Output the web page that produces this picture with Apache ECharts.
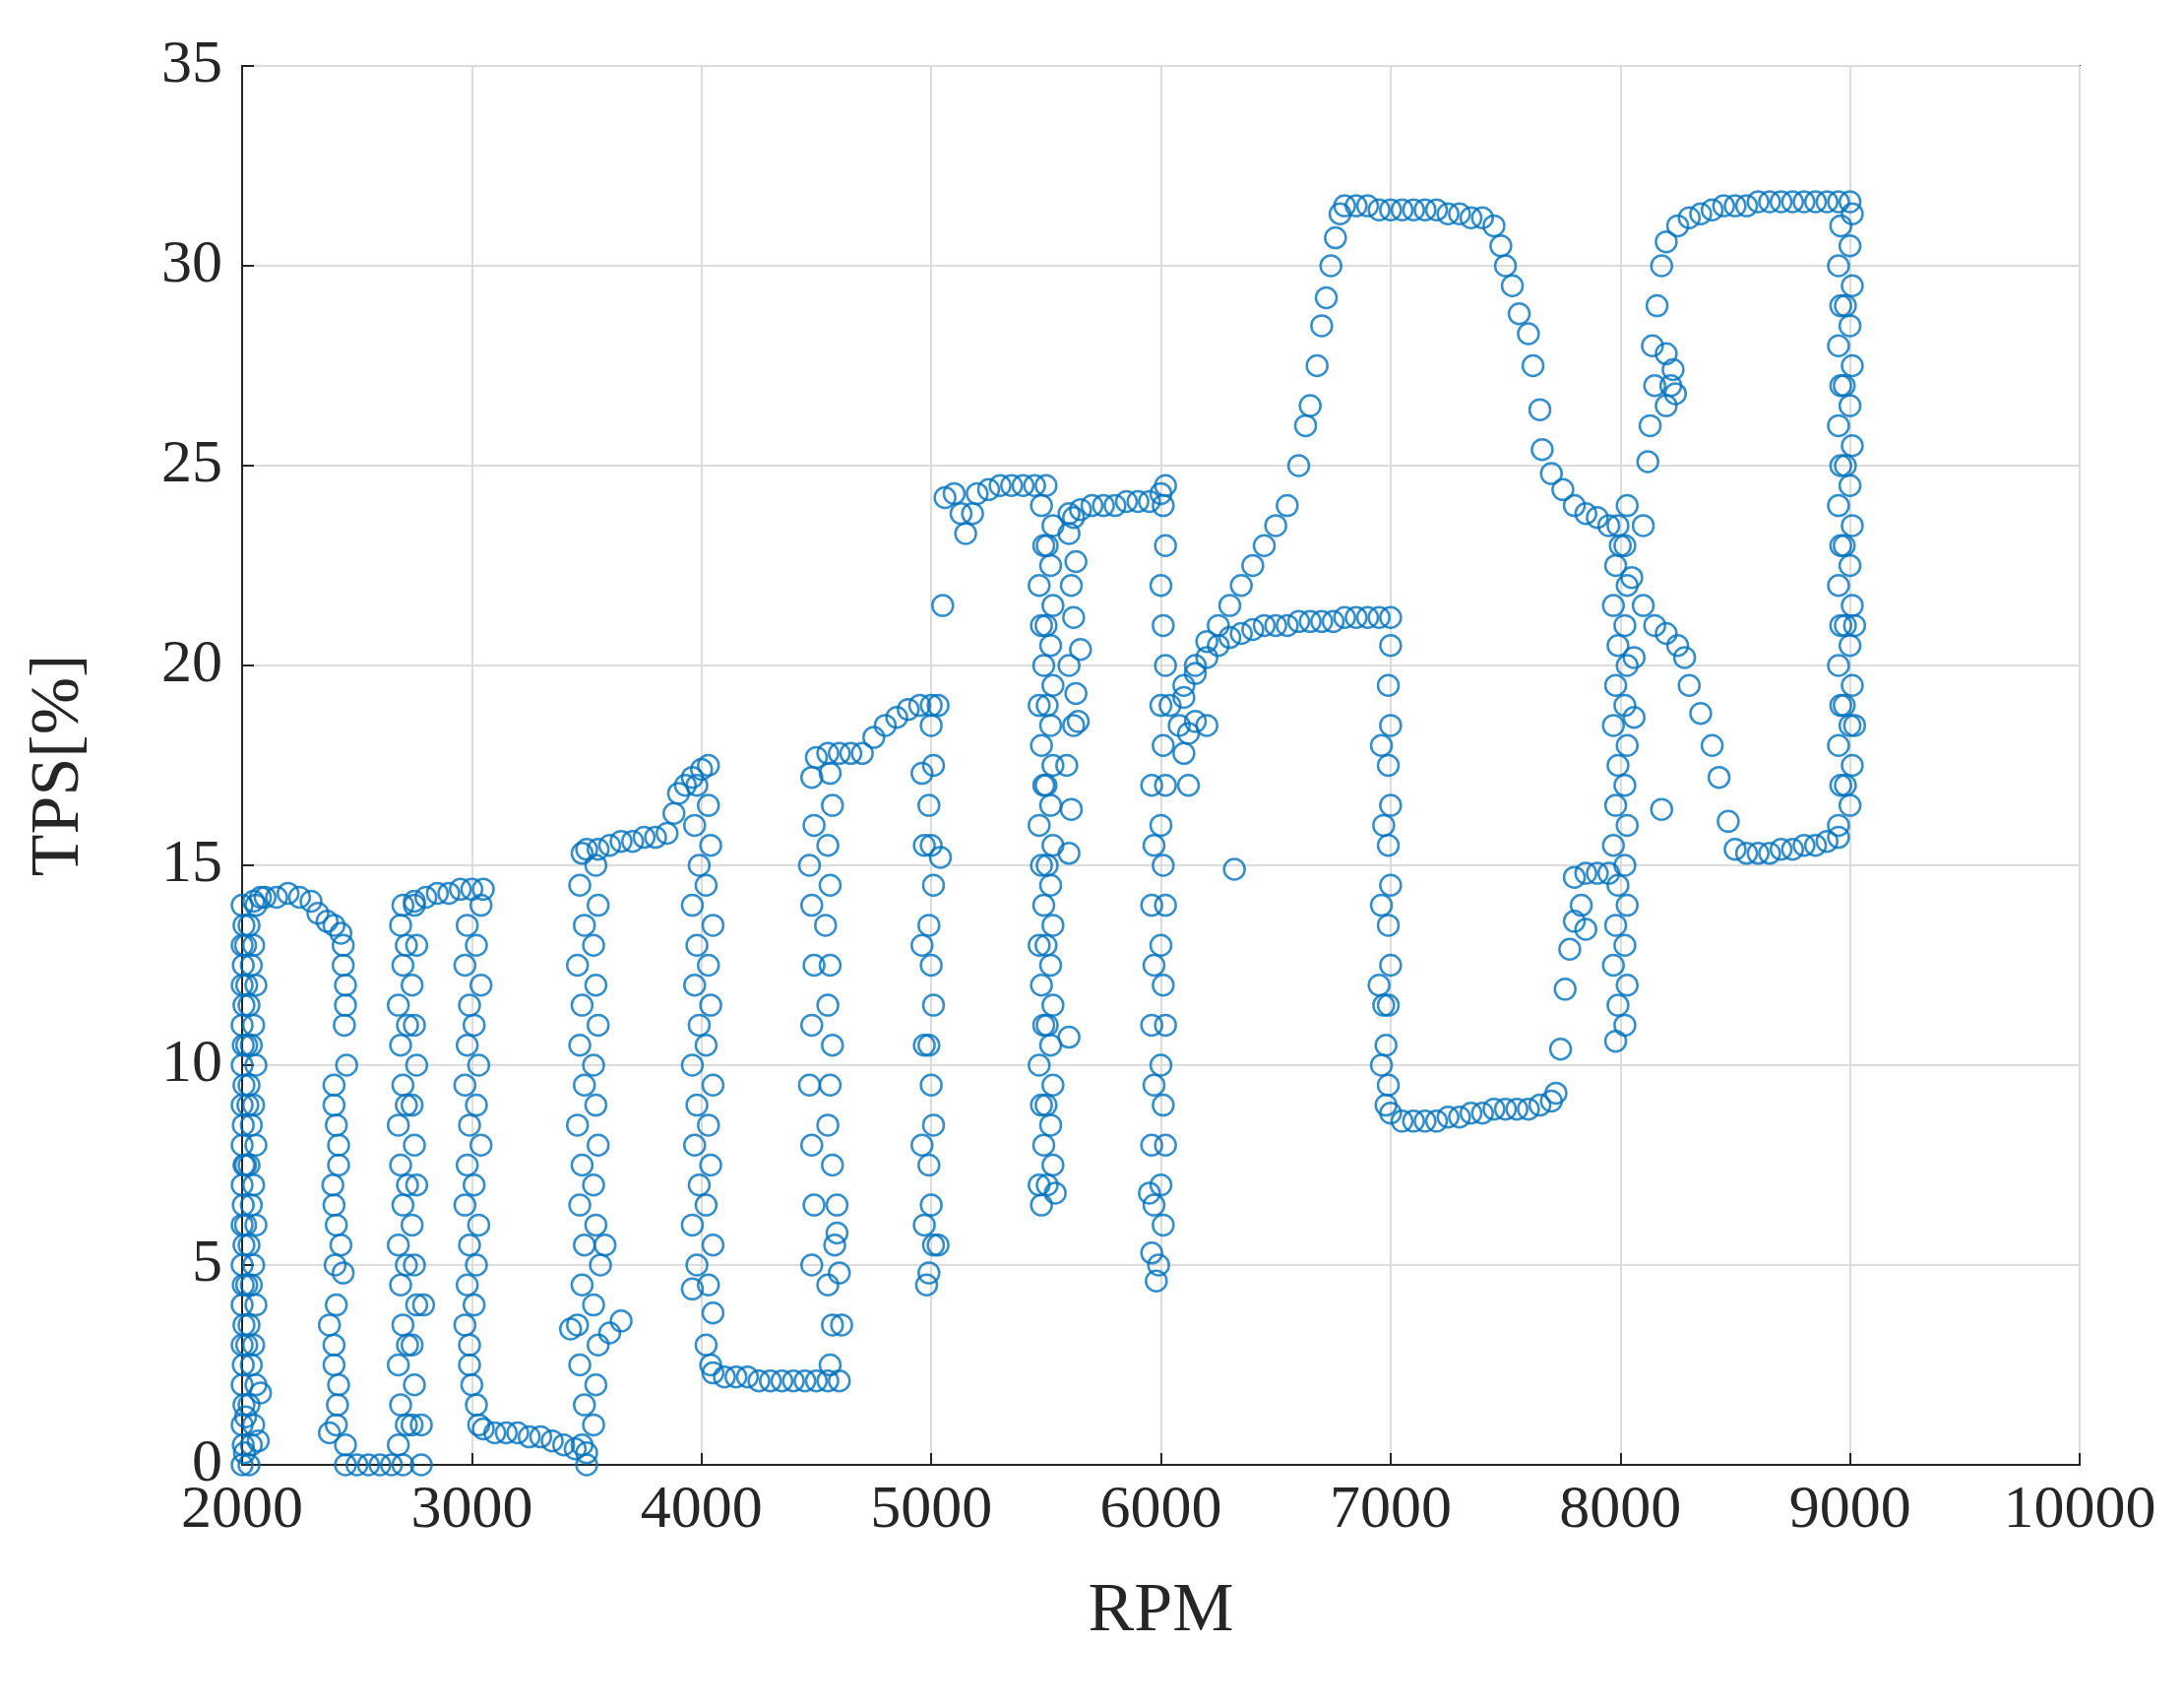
<!DOCTYPE html>
<html><head><meta charset="utf-8">
<script src="https://cdn.jsdelivr.net/npm/echarts@6/dist/echarts.min.js"></script>
<style>html,body{margin:0;background:#fff}#c{width:2219px;height:1735px}</style>
</head><body><div id="c"></div>
<script>
// tick values
const xTicks = [2000, 3000, 4000, 5000, 6000, 7000, 8000, 9000, 10000];
const yTicks = [0, 5, 10, 15, 20, 25, 30, 35];

// the trace, read piece by piece as [rpm, tps]
const seg2000 = [[2000,0],[2005,0.5],[2000,1],[2008,1.5],[2000,2],[2005,2.5],[2000,3],[2008,3.5],[2000,4],[2005,4.5],[2000,5],[2008,5.5],[2000,6],[2005,6.5],[2000,7],[2008,7.5],[2000,8],[2005,8.5],[2000,9],[2008,9.5],[2000,10],[2005,10.5],[2000,11],[2008,11.5],[2000,12],[2005,12.5],[2000,13],[2008,13.5],[2000,14],
  [2030,0],[2040,0.5],[2050,1],[2030,1.5],[2060,2],[2040,2.5],[2050,3],[2030,3.5],[2060,4],[2040,4.5],[2050,5],[2030,5.5],[2060,6],[2040,6.5],[2050,7],[2030,7.5],[2060,8],[2040,8.5],[2050,9],[2030,9.5],[2060,10],[2040,10.5],[2050,11],[2030,11.5],[2060,12],[2040,12.5],[2050,13],[2030,13.5],[2060,14],
  [2020,3],[2015,6],[2025,9],[2020,12],[2010,0.3],[2080,1.8],[2070,0.6],[2015,1.2],[2020,4.5],[2015,7.5],[2020,10.5],[2015,13]];
const segTop1 = [[2050,14.1],[2080,14.2],[2100,14.2],[2150,14.2],[2200,14.3],[2250,14.2],[2300,14.1],[2330,13.8],[2370,13.6],[2400,13.5],[2430,13.3]];
const segDown1 = [[2440,13],[2450,12],[2445,11],[2455,10],[2400,9.5],[2410,8.5],[2420,7.5],[2400,6.5],[2430,5.5],[2440,4.8],[2410,4],[2400,3],[2420,2],[2410,1],[2450,0.5],[2380,0.8],[2400,9],[2395,7],[2405,5],[2380,3.5],[2440,12.5],[2450,11.5],[2410,6],[2420,8],[2400,2.5],[2415,1.5]];
const segBot1 = [[2450,0],[2500,0],[2550,0],[2600,0],[2650,0],[2700,0],[2780,0]];
const segUp1 = [[2680,0.5],[2690,1.5],[2680,2.5],[2700,3.5],[2690,4.5],[2680,5.5],[2700,6.5],[2690,7.5],[2680,8.5],[2700,9.5],[2690,10.5],[2680,11.5],[2700,12.5],[2690,13.5],
  [2740,1],[2750,2],[2740,3],[2760,4],[2750,5],[2740,6],[2760,7],[2750,8],[2740,9],[2760,10],[2750,11],[2740,12],[2760,13],[2750,14],[2790,4],[2780,1],
  [2715,1],[2720,3],[2715,5],[2720,7],[2715,9],[2720,11],[2715,13]];
const segTop2 = [[2700,14],[2750,14.1],[2800,14.2],[2850,14.3],[2900,14.3],[2950,14.4],[3000,14.4],[3050,14.4]];
const segDown2 = [[3040,14],[3020,13],[3040,12],[3010,11],[3030,10],[3020,9],[3040,8],[3010,7],[3030,6],[3020,5],[3010,4],[2990,3],[3000,2],[3020,1.5],[3030,1],
  [2980,13.5],[2970,12.5],[2990,11.5],[2980,10.5],[2970,9.5],[2990,8.5],[2980,7.5],[2970,6.5],[2990,5.5],[2980,4.5],[2970,3.5],[2990,2.5]];
const segBot2 = [[3050,0.9],[3100,0.8],[3150,0.8],[3200,0.8],[3250,0.7],[3300,0.7],[3350,0.6],[3400,0.5],[3450,0.4],[3500,0.3],[3500,0]];
const segUp2 = [[3480,0.5],[3490,1.5],[3470,2.5],[3460,3.5],[3480,4.5],[3490,5.5],[3470,6.5],[3480,7.5],[3460,8.5],[3490,9.5],[3470,10.5],[3480,11.5],[3460,12.5],[3490,13.5],[3470,14.5],[3480,15.3],
  [3530,1],[3540,2],[3550,3],[3530,4],[3560,5],[3540,6],[3530,7],[3550,8],[3540,9],[3530,10],[3550,11],[3540,12],[3530,13],[3550,14],[3540,15],[3600,3.3],[3650,3.6],[3580,5.5],[3430,3.4]];
const segTop3 = [[3500,15.4],[3550,15.4],[3600,15.5],[3650,15.6],[3700,15.6],[3750,15.7],[3800,15.7],[3850,15.8],[3880,16.3],[3900,16.8],[3930,17],[3960,17.2],[4000,17.4],[4030,17.5]];
const segDown3 = [[3980,17],[3970,16],[3990,15],[3960,14],[3980,13],[3970,12],[3990,11],[3960,10],[3980,9],[3970,8],[3990,7],[3960,6],[3980,5],[3960,4.4],
  [4030,16.5],[4040,15.5],[4020,14.5],[4050,13.5],[4030,12.5],[4040,11.5],[4020,10.5],[4050,9.5],[4030,8.5],[4040,7.5],[4020,6.5],[4050,5.5],[4030,4.5],[4050,3.8],[4020,3],[4040,2.5]];
const segBot3 = [[4050,2.3],[4100,2.2],[4150,2.2],[4200,2.2],[4250,2.1],[4300,2.1],[4350,2.1],[4400,2.1],[4450,2.1],[4500,2.1],[4550,2.1],[4600,2.1]];
const segUp3 = [[4560,2.5],[4570,3.5],[4550,4.5],[4580,5.5],[4590,6.5],[4570,7.5],[4550,8.5],[4560,9.5],[4570,10.5],[4550,11.5],[4560,12.5],[4540,13.5],[4560,14.5],[4550,15.5],[4570,16.5],[4560,17.3],
  [4480,5],[4490,6.5],[4480,8],[4470,9.5],[4480,11],[4490,12.5],[4480,14],[4470,15],[4490,16],[4480,17.2],[4600,4.8],[4610,3.5],[4590,5.8]];
const segTop4 = [[4500,17.7],[4550,17.8],[4600,17.8],[4650,17.8],[4700,17.8],[4750,18.2],[4800,18.5],[4850,18.7],[4900,18.9],[4950,19],[5000,19],[5030,19]];
const segDown4 = [[5000,18.5],[5010,17.5],[4990,16.5],[5000,15.5],[5010,14.5],[4990,13.5],[5000,12.5],[5010,11.5],[4990,10.5],[5000,9.5],[5010,8.5],[4990,7.5],[5000,6.5],[5010,5.5],[4990,4.8],[4980,4.5],
  [4960,17.3],[4970,15.5],[4960,13],[4970,10.5],[4960,8],[4970,6],[5040,15.2],[5030,5.5],[5050,21.5]];
const segTop5 = [[5060,24.2],[5100,24.3],[5130,23.8],[5150,23.3],[5180,23.8],[5200,24.3],[5250,24.4],[5300,24.5],[5350,24.5],[5400,24.5],[5450,24.5],[5500,24.5]];
const segDown5 = [[5480,24],[5490,23],[5470,22],[5480,21],[5490,20],[5470,19],[5480,18],[5490,17],[5470,16],[5480,15],[5490,14],[5470,13],[5480,12],[5490,11],[5470,10],[5480,9],[5490,8],[5470,7],[5480,6.5],
  [5530,23.5],[5520,22.5],[5530,21.5],[5520,20.5],[5530,19.5],[5520,18.5],[5530,17.5],[5520,16.5],[5530,15.5],[5520,14.5],[5530,13.5],[5520,12.5],[5530,11.5],[5520,10.5],[5530,9.5],[5520,8.5],[5530,7.5],[5540,6.8],[5600,10.7],
  [5505,23],[5500,21],[5505,19],[5500,17],[5505,15],[5500,13],[5505,11],[5500,9],[5505,7]];
const segUp5 = [[5600,15.3],[5610,16.4],[5590,17.5],[5620,18.5],[5630,19.3],[5600,20],[5620,21.2],[5610,22],[5630,22.6],[5600,23.3],[5620,23.7],[5650,20.4],[5640,18.6]];
const segTop6 = [[5600,23.8],[5650,23.9],[5700,24],[5750,24],[5800,24],[5850,24.1],[5900,24.1],[5950,24.1],[6000,24.3],[6020,24.5]];
const segDown6 = [[6010,24],[6020,23],[6000,22],[6010,21],[6020,20],[6000,19],[6010,18],[6020,17],[6000,16],[6010,15],[6020,14],[6000,13],[6010,12],[6020,11],[6000,10],[6010,9],[6020,8],[6000,7],[6010,6],[5990,5],[5980,4.6],
  [5960,17],[5970,15.5],[5960,14],[5970,12.5],[5960,11],[5970,9.5],[5960,8],[5970,6.5],[5950,6.8],[5960,5.3]];
const segMid = [[6040,19],[6080,18.5],[6100,17.8],[6120,18.3],[6150,18.6],[6200,18.5],[6120,17],[6100,19.5],[6150,20],[6200,20.2],[6250,20.5],[6300,20.7],[6350,20.8],[6400,20.9],[6450,21],[6500,21],[6550,21],[6600,21.1],[6650,21.1],[6700,21.1],[6750,21.1],[6800,21.2],[6850,21.2],[6900,21.2],[6950,21.2],[7000,21.2],[6320,14.9]];
const segDown7 = [[7000,20.5],[6990,19.5],[7000,18.5],[6990,17.5],[7000,16.5],[6990,15.5],[7000,14.5],[6990,13.5],[7000,12.5],[6990,11.5],[6980,10.5],[6990,9.5],[6980,9],
  [6960,18],[6970,16],[6960,14],[6950,12],[6960,10],[6970,11.5]];
const segBot7 = [[7000,8.8],[7050,8.6],[7100,8.6],[7150,8.6],[7200,8.6],[7250,8.7],[7300,8.7],[7350,8.8],[7400,8.8],[7450,8.9],[7500,8.9],[7550,8.9],[7600,8.9],[7650,9],[7700,9.1]];
const segRise = [[7720,9.3],[7740,10.4],[7760,11.9],[7780,12.9],[7800,13.6],[7830,14],[7850,13.4],[7800,14.7],[7850,14.8],[7900,14.8],[7950,14.8]];
const segUp8 = [[7980,10.6],[7990,11.5],[7970,12.5],[7980,13.5],[7990,14.5],[7970,15.5],[7980,16.5],[7990,17.5],[7970,18.5],[7980,19.5],[7990,20.5],[7970,21.5],[7980,22.5],[7990,23.5],
  [8020,11],[8030,12],[8020,13],[8030,14],[8020,15],[8030,16],[8020,17],[8030,18],[8020,19],[8030,20],[8020,21],[8030,22],[8020,23],[8030,24],[8060,18.7],[8060,20.2]];
const segClimb = [[6100,19.2],[6150,19.8],[6200,20.6],[6250,21],[6300,21.5],[6350,22],[6400,22.5],[6450,23],[6500,23.5],[6550,24],[6600,25],[6630,26],[6650,26.5],[6680,27.5],[6700,28.5],[6720,29.2],[6740,30],[6760,30.7],[6780,31.3],[6800,31.5]];
const segHigh = [[6850,31.5],[6900,31.5],[6950,31.4],[7000,31.4],[7050,31.4],[7100,31.4],[7150,31.4],[7200,31.4],[7250,31.3],[7300,31.3],[7350,31.2],[7400,31.2],[7450,31],[7480,30.5]];
const segFall = [[7500,30],[7530,29.5],[7560,28.8],[7600,28.3],[7620,27.5],[7650,26.4],[7660,25.4],[7700,24.8],[7750,24.4],[7800,24],[7850,23.8],[7900,23.7],[7950,23.5],[8000,23],[8050,22.2],[8100,21.5],[8150,21],[8200,20.8],[8250,20.5],[8280,20.2],[8300,19.5],[8350,18.8],[8400,18],[8430,17.2],[8470,16.1],[8500,15.4]];
const segLow = [[8550,15.3],[8600,15.3],[8650,15.3],[8700,15.4],[8750,15.4],[8800,15.5],[8850,15.5],[8900,15.6],[8950,15.7]];
const segUp9 = [[8950,16],[8960,17],[8950,18],[8960,19],[8950,20],[8960,21],[8950,22],[8960,23],[8950,24],[8960,25],[8950,26],[8960,27],[8950,28],[8960,29],[8950,30],[8960,31],
  [9000,16.5],[9010,17.5],[9000,18.5],[9010,19.5],[9000,20.5],[9010,21.5],[9000,22.5],[9010,23.5],[9000,24.5],[9010,25.5],[9000,26.5],[9010,27.5],[9000,28.5],[9010,29.5],[9000,30.5],[9010,31.3],[9020,21],[9020,18.5],
  [8980,17],[8975,19],[8980,21],[8975,23],[8980,25],[8975,27],[8980,29]];
const segJump = [[8100,23.5],[8120,25.1],[8130,26],[8150,27],[8140,28],[8160,29],[8180,30],[8200,30.6],[8180,16.4],[8200,26.5],[8220,27],[8240,26.8],[8230,27.4],[8200,27.8]];
const segHigh2 = [[8250,31],[8300,31.2],[8350,31.3],[8400,31.4],[8450,31.5],[8500,31.5],[8550,31.5],[8600,31.6],[8650,31.6],[8700,31.6],[8750,31.6],[8800,31.6],[8850,31.6],[8900,31.6],[8950,31.6],[9000,31.6]];

const allPoints = [].concat(seg2000, segTop1, segDown1, segBot1, segUp1, segTop2, segDown2, segBot2, segUp2,
  segTop3, segDown3, segBot3, segUp3, segTop4, segDown4, segTop5, segDown5, segUp5, segTop6, segDown6,
  segMid, segDown7, segBot7, segRise, segUp8, segClimb, segHigh, segFall, segLow, segUp9, segJump, segHigh2);

const chart = echarts.init(document.getElementById('c'));
const txt = '#262626';
const font = 'Liberation Serif';

let option = {
  animation: false,
  grid: {
    left: 246, right: 106, top: 67, bottom: 247,
    show: true, borderColor: txt, borderWidth: 2
  },
  xAxis: {
    type: 'value',
    min: xTicks[0], max: xTicks[xTicks.length - 1], interval: 1000,
    name: 'RPM', nameLocation: 'middle', nameGap: 115,
    nameTextStyle: { fontFamily: font, fontSize: 70, color: txt },
    axisLine: { show: true, lineStyle: { color: txt, width: 2 } },
    axisTick: { inside: true, length: 12, lineStyle: { color: txt, width: 2 } },
    axisLabel: { fontFamily: font, fontSize: 62, color: txt, margin: 16, formatter: v => String(v) },
    splitLine: { lineStyle: { color: '#dcdcdc', width: 2 } }
  },
  yAxis: {
    type: 'value',
    min: yTicks[0], max: yTicks[yTicks.length - 1], interval: 5,
    name: 'TPS[%]', nameLocation: 'middle', nameGap: 150,
    nameTextStyle: { fontFamily: font, fontSize: 70, color: txt },
    axisLine: { show: true, lineStyle: { color: txt, width: 2 } },
    axisTick: { inside: true, length: 12, lineStyle: { color: txt, width: 2 } },
    axisLabel: { fontFamily: font, fontSize: 62, color: txt, margin: 20 },
    splitLine: { lineStyle: { color: '#dcdcdc', width: 2 } }
  },
  series: [{
    type: 'scatter',
    symbol: 'circle',
    symbolSize: 21,
    itemStyle: { color: 'rgba(0,0,0,0)', borderColor: '#0072BD', borderWidth: 2.5 },
    data: allPoints
  }]
};
chart.setOption(option);
</script>
</body></html>
